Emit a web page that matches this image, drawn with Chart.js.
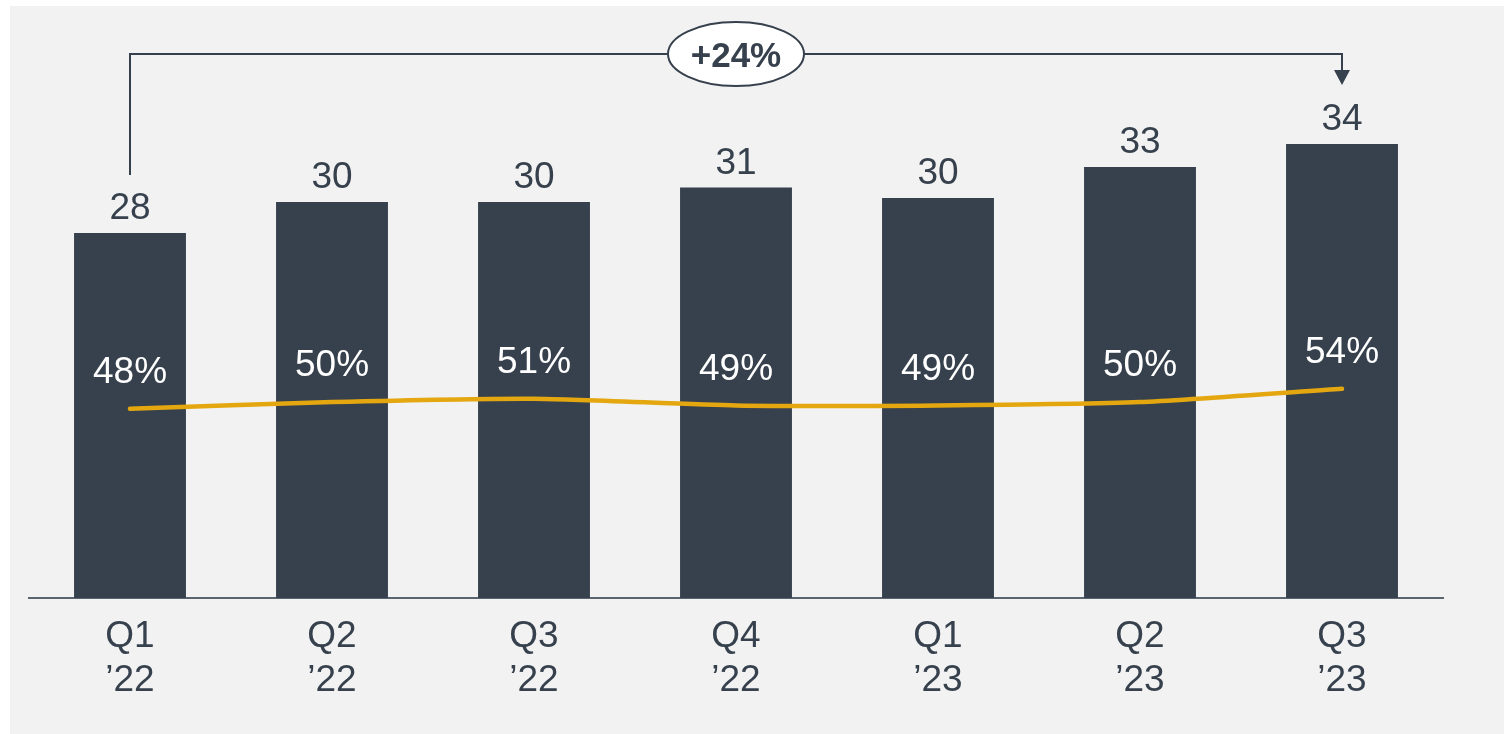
<!DOCTYPE html>
<html>
<head>
<meta charset="utf-8">
<script src="https://cdn.jsdelivr.net/npm/chart.js@4/dist/chart.umd.min.js"></script>
<style>
  html, body { margin: 0; padding: 0; background: #ffffff; }
  #panel { position: absolute; left: 10px; top: 6px; width: 1494px; height: 728px; background: #f2f2f2; }
  #wrap { position: absolute; left: 0; top: 0; width: 1504px; height: 734px; }
</style>
</head>
<body>
<div id="panel"></div>
<div id="wrap"><canvas id="chart"></canvas></div>
<script>
const quarters = [['Q1', '\u201922'], ['Q2', '\u201922'], ['Q3', '\u201922'], ['Q4', '\u201922'], ['Q1', '\u201923'], ['Q2', '\u201923'], ['Q3', '\u201923']];
const volume = [27.65, 30.0, 30.0, 31.1, 30.3, 32.65, 34.4];
const shareSeries = [48, 50, 51, 49, 49, 50, 54];

const DARK = '#36414d';
const GOLD = '#e4a70f';
const FONT = "'Liberation Sans', Arial, sans-serif";

const labelsPlugin = {
    id: 'labelsPlugin',
    afterDatasetsDraw(chart) {
        const ctx = chart.ctx;
        const bars = chart.getDatasetMeta(1).data;
        const points = chart.getDatasetMeta(0).data;
        ctx.save();
        ctx.textAlign = 'center';
        ctx.textBaseline = 'middle';
        ctx.font = '37px ' + FONT;

        // values above bars
        ctx.fillStyle = DARK;
        bars.forEach((bar, i) => {
            ctx.fillText(String(Math.round(volume[i])), bar.x, bar.y - 24);
        });

        // percentages above the line
        ctx.fillStyle = '#ffffff';
        points.forEach((pt, i) => {
            ctx.fillText(shareSeries[i] + '%', pt.x, pt.y - 36);
        });

        // growth bracket from first to last bar
        const first = bars[0], last = bars[bars.length - 1];
        const yTop = chart.chartArea.top - 16;
        ctx.strokeStyle = DARK;
        ctx.lineWidth = 2;
        ctx.beginPath();
        ctx.moveTo(first.x, first.y - 58);
        ctx.lineTo(first.x, yTop);
        ctx.lineTo(last.x, yTop);
        ctx.lineTo(last.x, last.y - 66);
        ctx.stroke();
        ctx.fillStyle = DARK;
        ctx.beginPath();
        ctx.moveTo(last.x - 8, last.y - 74);
        ctx.lineTo(last.x + 8, last.y - 74);
        ctx.lineTo(last.x, last.y - 59);
        ctx.closePath();
        ctx.fill();

        const cx = (first.x + last.x) / 2;
        ctx.beginPath();
        ctx.ellipse(cx, yTop, 68, 32, 0, 0, Math.PI * 2);
        ctx.fillStyle = '#ffffff';
        ctx.fill();
        ctx.stroke();
        const growth = Math.round((volume[volume.length - 1] / volume[0] - 1) * 100);
        ctx.fillStyle = DARK;
        ctx.font = 'bold 35px ' + FONT;
        ctx.fillText('+' + growth + '%', cx, yTop + 3);
        ctx.restore();
    }
};

new Chart(document.getElementById('chart'), {
    data: {
        labels: quarters,
        datasets: [
            {
                type: 'line', data: shareSeries, yAxisID: 'y1', order: 0,
                borderColor: GOLD, borderWidth: 4.5, pointRadius: 0, tension: 0.2,
                borderCapStyle: 'round'
            },
            {
                type: 'bar', data: volume, yAxisID: 'y', order: 1,
                backgroundColor: DARK, categoryPercentage: 1, barPercentage: 0.554
            }
        ]
    },
    options: {
        responsive: true,
        maintainAspectRatio: false,
        animation: false,
        layout: { padding: { left: 29, right: 61, top: 70, bottom: 0 } },
        plugins: { legend: { display: false }, tooltip: { enabled: false } },
        scales: {
            x: {
                grid: { display: false },
                border: { display: true, color: '#5b6570', width: 2 },
                ticks: { color: DARK, padding: 9, font: { family: FONT, size: 37, lineHeight: 1.19 } },
                afterFit(scale) { scale.height = 136; }
            },
            y: { display: false, min: 0, max: 40 },
            y1: { display: false, min: -9, max: 150 }
        }
    },
    plugins: [labelsPlugin]
});
</script>
</body>
</html>
